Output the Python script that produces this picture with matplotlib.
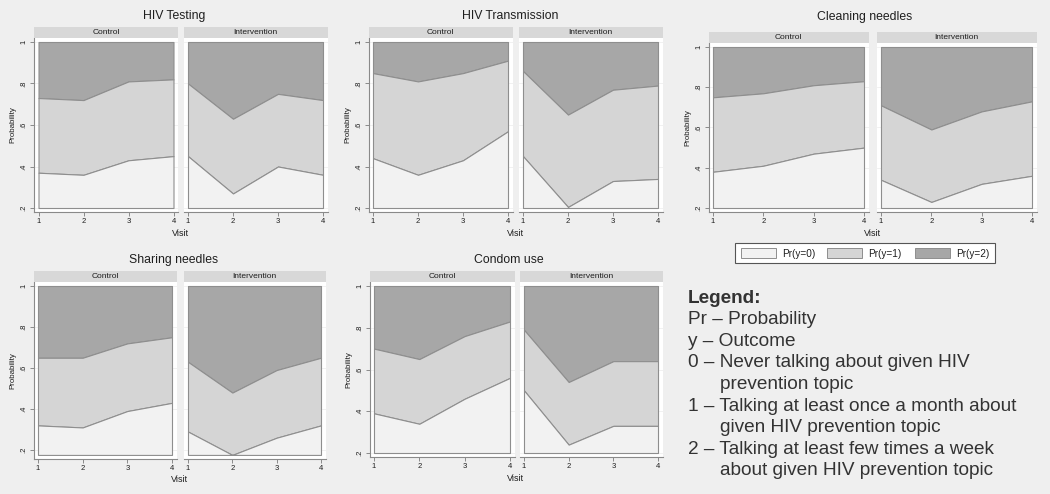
import matplotlib
matplotlib.use("Agg")
import matplotlib.pyplot as plt
from matplotlib.patches import Rectangle

plt.rcParams['font.family'] = ['Liberation Sans', 'DejaVu Sans']

# ---- data ----
visits = [1, 2, 3, 4]
ytick_vals = [0.2, 0.4, 0.6, 0.8, 1.0]
ytick_labels = [".2", ".4", ".6", ".8", "1"]
groups = ["Control", "Intervention"]
outcome_labels = ["Pr(y=0)", "Pr(y=1)", "Pr(y=2)"]

# lower line = Pr(y=0), upper line = Pr(y=0)+Pr(y=1)
testing_ctrl_low = [0.37, 0.36, 0.43, 0.45]
testing_ctrl_high = [0.73, 0.72, 0.81, 0.82]
testing_int_low = [0.45, 0.27, 0.40, 0.36]
testing_int_high = [0.80, 0.63, 0.75, 0.72]

transm_ctrl_low = [0.44, 0.36, 0.43, 0.57]
transm_ctrl_high = [0.85, 0.81, 0.85, 0.91]
transm_int_low = [0.45, 0.205, 0.33, 0.34]
transm_int_high = [0.86, 0.65, 0.77, 0.79]

clean_ctrl_low = [0.38, 0.41, 0.47, 0.50]
clean_ctrl_high = [0.75, 0.77, 0.81, 0.83]
clean_int_low = [0.34, 0.23, 0.32, 0.36]
clean_int_high = [0.71, 0.59, 0.68, 0.73]

share_ctrl_low = [0.32, 0.31, 0.39, 0.43]
share_ctrl_high = [0.65, 0.65, 0.72, 0.75]
share_int_low = [0.29, 0.176, 0.26, 0.32]
share_int_high = [0.63, 0.48, 0.59, 0.65]

condom_ctrl_low = [0.39, 0.34, 0.46, 0.56]
condom_ctrl_high = [0.70, 0.65, 0.76, 0.83]
condom_int_low = [0.50, 0.24, 0.33, 0.33]
condom_int_high = [0.79, 0.54, 0.64, 0.64]

legend_lines = [
    ("Legend:", 0, True),
    ("Pr \u2013 Probability", 0, False),
    ("y \u2013 Outcome", 0, False),
    ("0 \u2013 Never talking about given HIV", 0, False),
    ("prevention topic", 1, False),
    ("1 \u2013 Talking at least once a month about", 0, False),
    ("given HIV prevention topic", 1, False),
    ("2 \u2013 Talking at least few times a week", 0, False),
    ("about given HIV prevention topic", 1, False),
]

# ---- layout (pixels) ----
W, H = 1050, 494
BG = "#efefef"
FILLS = ["#f2f2f2", "#d5d5d5", "#a7a7a7"]
EDGE = "#8e8e8e"
AXC = "#8a8a8a"
TXT = "#1e1e1e"

# title, title center, ctrl x-range (px of visit 1..4), int x-range, y px of 1.0, y px of 0.2
panels = [
    ("HIV Testing", (174, 16), (38.5, 173.5), (188, 323), 42, 208,
     (testing_ctrl_low, testing_ctrl_high), (testing_int_low, testing_int_high)),
    ("HIV Transmission", (510, 16), (373, 508), (523, 658), 42, 208,
     (transm_ctrl_low, transm_ctrl_high), (transm_int_low, transm_int_high)),
    ("Cleaning needles", (865, 17), (713, 864), (881, 1032), 47, 208,
     (clean_ctrl_low, clean_ctrl_high), (clean_int_low, clean_int_high)),
    ("Sharing needles", (174, 260), (38, 172), (188, 321), 286, 450,
     (share_ctrl_low, share_ctrl_high), (share_int_low, share_int_high)),
    ("Condom use", (509, 260), (374, 510), (524, 658), 286, 453,
     (condom_ctrl_low, condom_ctrl_high), (condom_int_low, condom_int_high)),
]

fig = plt.figure(figsize=(W / 100, H / 100), dpi=100)
fig.patch.set_facecolor(BG)


def px_rect(x0, y0, x1, y1):
    return [x0 / W, 1 - y1 / H, (x1 - x0) / W, (y1 - y0) / H]


for title, (tx, ty), cx, ix, y_one, y_two, ctrl, intv in panels:
    base = min(0.2, min(ctrl[0] + intv[0]))
    ppu_y = (y_two - y_one) / 0.8
    y_base = y_one + (1 - base) * ppu_y
    pad_y = 4.0
    wy0, wy1 = y_one - pad_y, y_base + pad_y
    ylim = (base - pad_y / ppu_y, 1 + pad_y / ppu_y)

    fig.text(tx / W, 1 - ty / H, title, ha="center", va="center",
             fontsize=8.8, color=TXT)

    for gi, ((xl, xr), (low, high)) in enumerate([(cx, ctrl), (ix, intv)]):
        ppu_x = (xr - xl) / 3.0
        pad_x = 4.5
        wx0, wx1 = xl - pad_x, xr + pad_x
        ax = fig.add_axes(px_rect(wx0, wy0, wx1, wy1))
        ax.set_facecolor("white")
        ax.set_xlim(1 - pad_x / ppu_x, 4 + pad_x / ppu_x)
        ax.set_ylim(*ylim)
        for t in ytick_vals:
            ax.axhline(t, color="#ececec", lw=0.5, zorder=0)

        ax.fill_between(visits, high, [1.0] * 4, facecolor=FILLS[2],
                        edgecolor=EDGE, lw=0.8, zorder=2)
        ax.fill_between(visits, low, high, facecolor=FILLS[1],
                        edgecolor=EDGE, lw=0.8, zorder=3)
        ax.fill_between(visits, [base] * 4, low, facecolor=FILLS[0],
                        edgecolor=EDGE, lw=0.8, zorder=4)

        for s in ["top", "right"]:
            ax.spines[s].set_visible(False)
        ax.spines["bottom"].set_color(AXC)
        ax.spines["bottom"].set_linewidth(0.8)
        ax.set_xticks(visits)
        ax.set_xticklabels([str(v) for v in visits])
        ax.tick_params(axis="x", length=3, width=0.7, color=AXC, pad=1.5,
                       labelsize=5.5, labelcolor=TXT)
        if gi == 0:
            ax.spines["left"].set_color(AXC)
            ax.spines["left"].set_linewidth(0.8)
            ax.set_yticks(ytick_vals)
            ax.set_yticklabels(ytick_labels, rotation=90, va="center")
            ax.tick_params(axis="y", length=3, width=0.7, color=AXC, pad=1.5,
                           labelsize=5.5, labelcolor=TXT)
            fig.text((wx0 - 21) / W, 1 - (wy0 + wy1) / 2 / H, "Probability",
                     rotation=90, ha="center", va="center", fontsize=5.7,
                     color=TXT)
        else:
            ax.spines["left"].set_visible(False)
            ax.set_yticks([])

        # strip
        sh = 10.5
        sax = fig.add_axes(px_rect(wx0, wy0 - sh, wx1, wy0))
        sax.set_facecolor("#d8d8d8")
        sax.set_xticks([])
        sax.set_yticks([])
        for s in sax.spines.values():
            s.set_visible(False)
        sax.text(0.5, 0.5, groups[gi], ha="center", va="center",
                 fontsize=6, color=TXT, transform=sax.transAxes)

    vx = (cx[0] - 4.5 + ix[1] + 4.5) / 2
    fig.text(vx / W, 1 - (wy1 + 21) / H, "Visit", ha="center", va="center",
             fontsize=6.5, color=TXT)

# legend for the Cleaning needles graph
fig.patches.append(Rectangle((735 / W, 1 - 263 / H), 260 / W, 20 / H,
                             transform=fig.transFigure, facecolor="white",
                             edgecolor="#555555", lw=0.8))
patch_x = [741, 827, 915]
for px0, lab, col in zip(patch_x, outcome_labels, FILLS):
    fig.patches.append(Rectangle((px0 / W, 1 - 258 / H), 35 / W, 10 / H,
                                 transform=fig.transFigure, facecolor=col,
                                 edgecolor=EDGE, lw=0.7))
    fig.text((px0 + 41) / W, 1 - 253.5 / H, lab, ha="left", va="center",
             fontsize=7.2, color=TXT)

# text legend
base_y = 302.5
for i, (line, indent, bold) in enumerate(legend_lines):
    x = 688 if indent == 0 else 720
    fig.text(x / W, 1 - (base_y + i * 21.6) / H, line, ha="left",
             va="baseline", fontsize=13.7, color="#333333",
             fontweight="bold" if bold else "normal")

fig.savefig("out.png", dpi=100, facecolor=BG)
